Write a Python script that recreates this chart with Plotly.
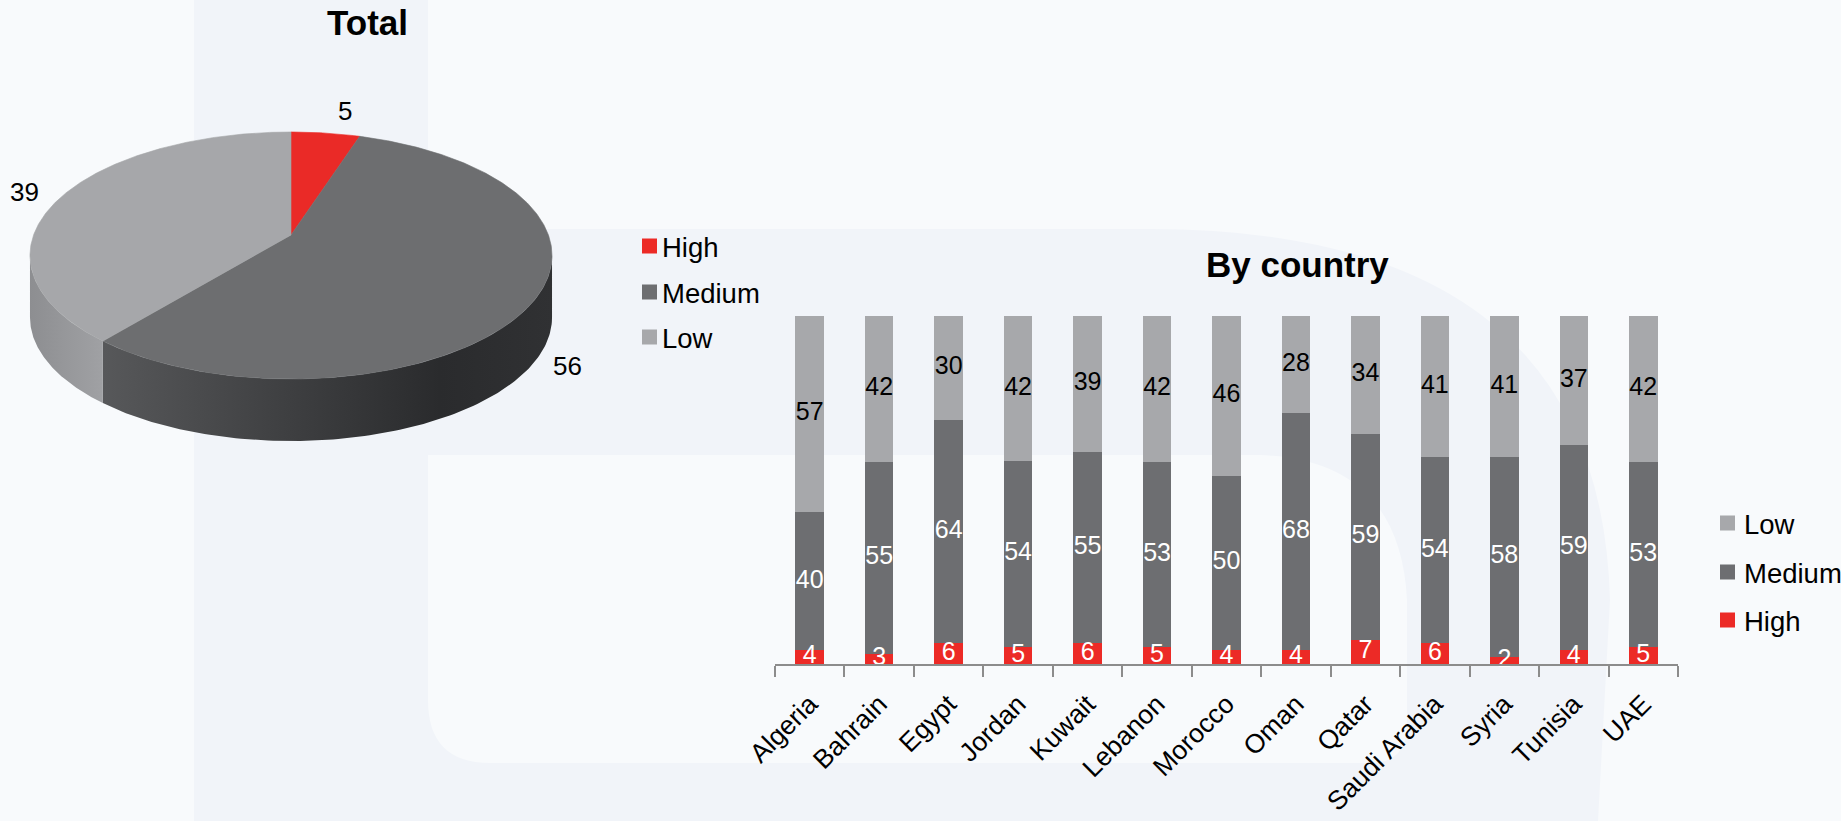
import numpy as np
import plotly.graph_objects as go

W, H = 1841, 821
FONT = "Liberation Sans, Arial, sans-serif"

# ---- data -------------------------------------------------------------
levels = ["High", "Medium", "Low"]
total_values = [5, 56, 39]

countries = ["Algeria", "Bahrain", "Egypt", "Jordan", "Kuwait", "Lebanon", "Morocco",
             "Oman", "Qatar", "Saudi Arabia", "Syria", "Tunisia", "UAE"]
high = [4, 3, 6, 5, 6, 5, 4, 4, 7, 6, 2, 4, 5]
medium = [40, 55, 64, 54, 55, 53, 50, 68, 59, 54, 58, 59, 53]
low = [57, 42, 30, 42, 39, 42, 46, 28, 34, 41, 41, 37, 42]

# ---- styling ----------------------------------------------------------
top_colors = {"High": "#ea2a27", "Medium": "#6d6e70", "Low": "#a6a7aa"}
side_scales = {
    "High": [[0, "#a81c1a"], [1, "#c42320"]],
    "Medium": [[0, "#57585a"], [0.75, "#2a2b2d"], [1, "#303133"]],
    "Low": [[0, "#8d8e91"], [1, "#a0a1a4"]],
}
bar_colors = {"High": "#ec2a26", "Medium": "#6d6e71", "Low": "#a7a8ab"}
label_colors = {"High": "white", "Medium": "white", "Low": "black"}

# pie label anchor points (pixel space) and pie geometry
pie_label_pos = [(345, 111), (567, 366), (24, 192)]
CX, PY0, R = 291.0, 235.0, 257.4      # centre x, projected centre y, radius
PA, PC = -81.1, 0.166                 # perspective terms
DEPTH = 62.0

BG = "#f8fafc"
BG_DARK = "#f1f4f9"


def project(theta_deg):
    """Project a rim point (clockwise from 12 o'clock) of the tilted disc."""
    t = np.radians(theta_deg)
    X, v = np.sin(t), np.cos(t)
    den = 1 + PC * v
    return CX + R * X / den, (PA * v + PY0) / den


fig = go.Figure()

# ---- 3-D pie (drawn on a pixel-space overlay axis) ---------------------
vals = np.array(total_values, dtype=float)
edges = np.concatenate([[0.0], np.cumsum(vals) / vals.sum() * 360.0])
vis_lo = 90 + np.degrees(np.arcsin(PC))
vis_hi = 270 - np.degrees(np.arcsin(PC))

# side walls first
for name, a1, a2 in zip(levels, edges[:-1], edges[1:]):
    s1, s2 = max(a1, vis_lo), min(a2, vis_hi)
    if s2 <= s1:
        continue
    th = np.linspace(s1, s2, 120)
    x, y = project(th)
    xs = np.concatenate([x, x[::-1]])
    ys = np.concatenate([y, (y + DEPTH)[::-1]])
    fig.add_trace(go.Scatter(
        x=xs, y=ys, mode="lines", fill="toself",
        line=dict(width=0), fillcolor=top_colors[name],
        fillgradient=dict(type="horizontal", colorscale=side_scales[name]),
        xaxis="x2", yaxis="y2", hoverinfo="skip", showlegend=False))

# top faces
for name, a1, a2 in zip(levels, edges[:-1], edges[1:]):
    th = np.linspace(a1, a2, max(int(a2 - a1) * 2, 8))
    x, y = project(th)
    xs = np.concatenate([[CX], x, [CX]])
    ys = np.concatenate([[PY0], y, [PY0]])
    fig.add_trace(go.Scatter(
        x=xs, y=ys, mode="lines", fill="toself",
        line=dict(width=0.6, color=top_colors[name]), fillcolor=top_colors[name],
        xaxis="x2", yaxis="y2", hoverinfo="skip", showlegend=False))

# ---- 100% stacked columns ---------------------------------------------
stack = np.array([high, medium, low], dtype=float)
shares = stack / stack.sum(axis=0) * 100.0
bases = np.vstack([np.zeros(len(countries)), np.cumsum(shares, axis=0)[:-1]])

for name, series in zip(levels, [high, medium, low]):
    fig.add_trace(go.Bar(
        x=countries, y=series, name=name,
        marker=dict(color=bar_colors[name], line=dict(width=0)),
        hoverinfo="skip", showlegend=False))

# segment value labels, centred in each normalised segment and kept on top
for i, (name, series) in enumerate(zip(levels, [high, medium, low])):
    fig.add_trace(go.Scatter(
        x=countries, y=bases[i] + shares[i] / 2.0, mode="text",
        text=[str(v) for v in series], textposition="middle center",
        textfont=dict(family=FONT, size=25, color=label_colors[name]),
        cliponaxis=False, hoverinfo="skip", showlegend=False))

annotations = []
shapes = []

# pie value labels
for v, (lx, ly) in zip(total_values, pie_label_pos):
    annotations.append(dict(x=lx, y=ly, xref="x2", yref="y2", text=str(v),
                            showarrow=False, font=dict(family=FONT, size=26, color="black"),
                            xanchor="center", yanchor="middle"))

# titles
annotations.append(dict(x=367, y=22, xref="x2", yref="y2", text="<b>Total</b>",
                        showarrow=False, font=dict(family=FONT, size=35, color="black")))
annotations.append(dict(x=1297, y=264, xref="x2", yref="y2", text="<b>By country</b>",
                        showarrow=False, font=dict(family=FONT, size=35, color="black")))


def legend_block(names, sq_x, text_x, ys):
    for n, yy in zip(names, ys):
        shapes.append(dict(type="rect", xref="x2", yref="y2", x0=sq_x, x1=sq_x + 15,
                           y0=yy - 7.5, y1=yy + 7.5, fillcolor=bar_colors[n],
                           line=dict(width=0), layer="above"))
        annotations.append(dict(x=text_x, y=yy + 1, xref="x2", yref="y2", text=n,
                                showarrow=False, xanchor="left", yanchor="middle",
                                font=dict(family=FONT, size=27.5, color="black")))


legend_block(levels, 642, 660, [246, 292, 337])
legend_block(levels[::-1], 1720, 1742, [523, 572, 620])


# faint watermark shapes in the background
def px_path(cmds):
    out = []
    for c in cmds:
        if isinstance(c, str):
            out.append(c)
        else:
            out.append(f"{c[0] / W:.5f},{1 - c[1] / H:.5f}")
    return " ".join(out)


shapes.append(dict(type="rect", xref="paper", yref="paper", x0=194 / W, x1=428 / W,
                   y0=0, y1=1, fillcolor=BG_DARK, line=dict(width=0), layer="below"))
shapes.append(dict(type="path", xref="paper", yref="paper", layer="below",
                   fillcolor=BG_DARK, line=dict(width=0),
                   path=px_path(["M", (428, 229), "L", (1150, 229), "Q", (1600, 229), (1610, 600),
                                 "L", (1598, 821), "L", (428, 821), "Z"])))
shapes.append(dict(type="path", xref="paper", yref="paper", layer="below",
                   fillcolor=BG, line=dict(width=0),
                   path=px_path(["M", (428, 455), "L", (1260, 455), "Q", (1400, 460), (1407, 600),
                                 "L", (1407, 725), "Q", (1407, 763), (1370, 763),
                                 "L", (490, 763), "Q", (428, 763), (428, 700), "Z"])))

fig.update_layout(
    width=W, height=H,
    margin=dict(l=0, r=0, t=0, b=0, pad=0, autoexpand=False),
    paper_bgcolor=BG, plot_bgcolor="rgba(0,0,0,0)",
    barmode="stack", barnorm="percent", bargap=0.59,
    font=dict(family=FONT, color="black"),
    xaxis=dict(domain=[775 / W, 1678 / W], type="category", range=[-0.5, 12.5],
               tickson="boundaries", ticks="outside", ticklen=11, tickwidth=2,
               tickcolor="#8c8c8c", showline=True, linecolor="#8c8c8c", linewidth=2,
               tickangle=-45, tickfont=dict(family=FONT, size=26.5, color="black"),
               ticklabelstandoff=12, automargin=False,
               showgrid=False, zeroline=False, anchor="y", fixedrange=True),
    yaxis=dict(domain=[1 - 664 / H, 1 - 316 / H], range=[0, 100], visible=False,
               automargin=False, showgrid=False, zeroline=False, anchor="x", fixedrange=True),
    xaxis2=dict(domain=[0, 1], range=[0, W], visible=False, anchor="y2",
                automargin=False, fixedrange=True),
    yaxis2=dict(domain=[0, 1], range=[H, 0], visible=False, anchor="x2",
                automargin=False, fixedrange=True),
    annotations=annotations,
    shapes=shapes,
    showlegend=False,
)

fig.write_html("out.html")
